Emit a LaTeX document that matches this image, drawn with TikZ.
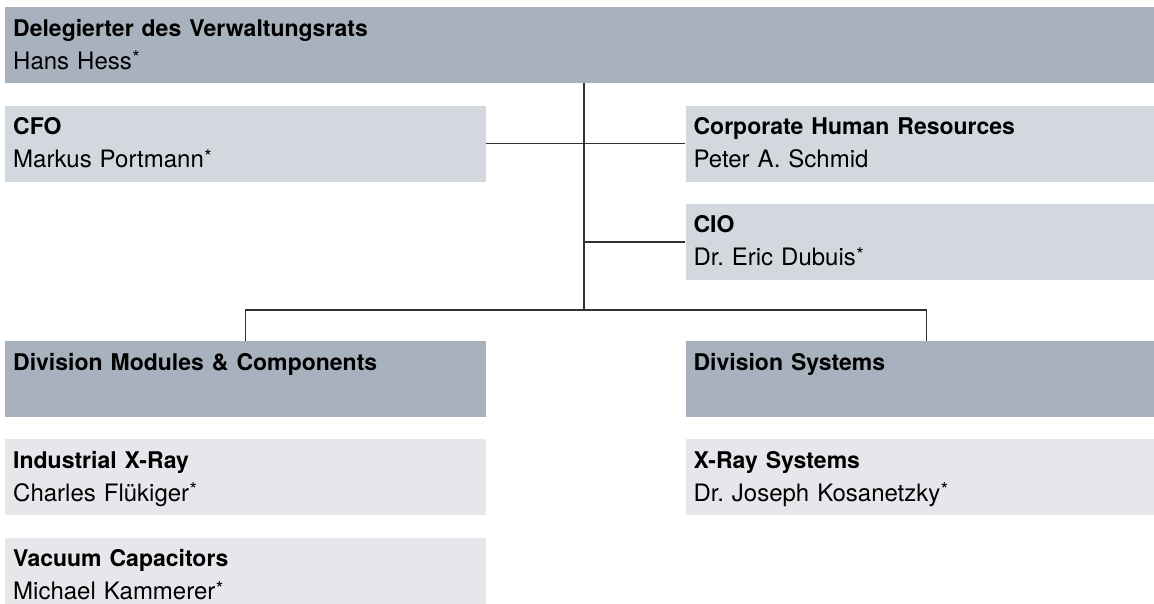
\documentclass[tikz,border=0pt]{standalone}
\usepackage{fontspec}
\setmainfont{TeX Gyre Heros}
\usepackage{tikz}
\usetikzlibrary{positioning}
\definecolor{mydark}{RGB}{50,50,50}
\definecolor{hdrdark}{RGB}{168,178,190}
\definecolor{hdrmid}{RGB}{211,216,223}
\definecolor{hdrlight}{RGB}{229,231,235}
\newcommand{\orgtitle}[1]{{\fontsize{23}{33}\selectfont\bfseries #1}}
\newcommand{\supstar}{\kern0.5pt\raisebox{4.5pt}{\fontsize{19}{19}\selectfont*}}
\frenchspacing
\tikzset{
  orgbox/.style={rectangle, fill=hdrmid, text width=465pt, align=left,
    inner xsep=8pt, inner ysep=0pt, minimum height=76pt,
    font=\fontsize{24}{33}\selectfont,
    execute at begin node=\rule{0pt}{25pt},
    execute at end node=\rule[-10pt]{0pt}{10pt}},
  divbox/.style={orgbox, fill=hdrdark},
  unitbox/.style={orgbox, fill=hdrlight},
  line/.style={line width=1.2pt, color=mydark}
}

\begin{document}
\begin{tikzpicture}[x=1pt, y=1pt, node distance=22pt and 199pt]
  \useasboundingbox (0,0) rectangle (1154,-604);
  \clip (0,0) rectangle (1154,-604);

  \node[divbox, text width=1145pt, anchor=north west] (root) at (5,-7) {\orgtitle{Delegierter des Verwaltungsrats}\\Hans Hess\supstar};

  \node[orgbox, below=22pt of root.south west, anchor=north west] (cfo) {\orgtitle{CFO}\\Markus Portmann\supstar};
  \node[orgbox, right=of cfo] (hr) {\orgtitle{Corporate Human Resources}\\Peter A. Schmid};
  \node[orgbox, below=of hr] (cio) {\orgtitle{CIO}\\Dr. Eric Dubuis\supstar};

  \node[divbox, below=159pt of cfo] (modcomp) {\orgtitle{Division Modules \& Components}\\};
  \node[divbox, right=of modcomp] (systems) {\orgtitle{Division Systems}\\};

  \node[unitbox, below=of modcomp] (ixray) {\orgtitle{Industrial X-Ray}\\Charles Flükiger\supstar};
  \node[unitbox, below=of ixray] (vaccap) {\orgtitle{Vacuum Capacitors}\\Michael Kammerer\supstar};
  \node[unitbox, below=of systems] (xraysys) {\orgtitle{X-Ray Systems}\\Dr. Joseph Kosanetzky\supstar};

  % trunk and branches
  \coordinate (hub) at (584,-310);
  \draw[line] (root.south -| hub) -- (hub);
  \draw[line] (cfo.east) -- (cfo.east -| hub);
  \draw[line] (hr.west) -- (hr.west -| hub);
  \draw[line] (cio.west) -- (cio.west -| hub);
  \draw[line] (modcomp.north) |- (hub) -| (systems.north);
\end{tikzpicture}
\end{document}
